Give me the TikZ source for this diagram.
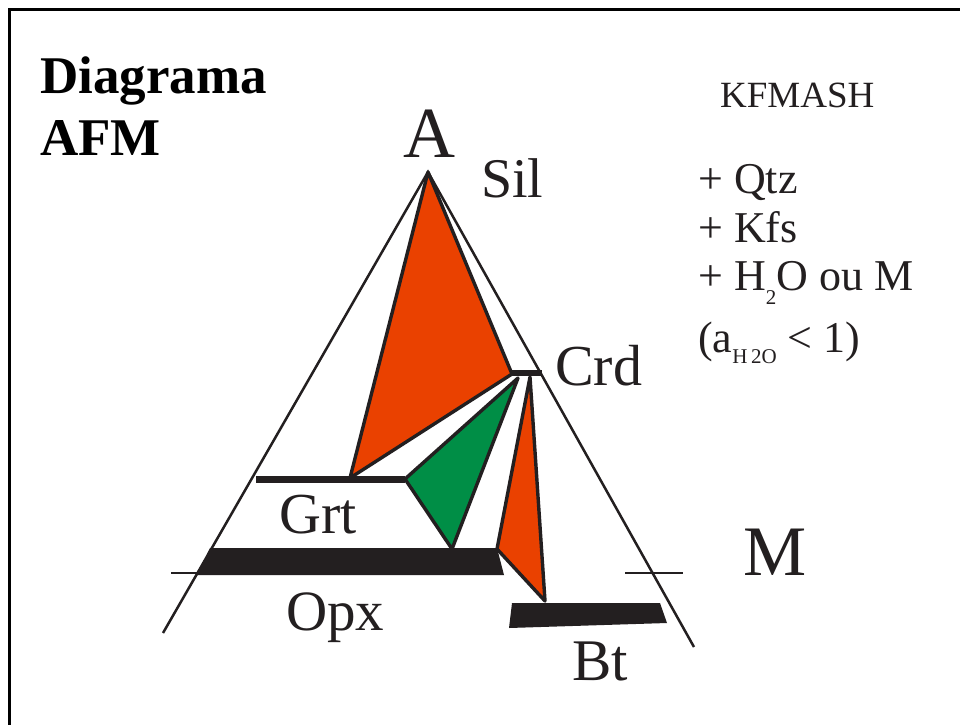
\documentclass[tikz,border=0pt]{standalone}
\usepackage{fontspec}
\setmainfont{Liberation Serif}
\definecolor{orng}{RGB}{234,65,0}
\definecolor{grn}{RGB}{0,142,70}
\definecolor{ink}{RGB}{35,31,32}
\begin{document}
\begin{tikzpicture}[x=1pt,y=-1pt,
  lbl/.style={inner sep=0pt, anchor=base west, text=ink},
  side/.style={draw=ink, line width=2.5pt},
  tick/.style={draw=ink, line width=2pt},
  face/.style={draw=ink, line width=3.4pt, line join=round},
  bar/.style={fill=ink, draw=none}]
\useasboundingbox (0,0) rectangle (960,724);
\fill[white] (0,0) rectangle (960,724);
\draw[black, line width=3pt] (9,740) -- (9,9) -- (980,9);
% triangle
\coordinate (A) at (428,172);
\coordinate (L) at (163,633);
\coordinate (R) at (694,647);
\draw[side] (L) -- (A) -- (R);
\coordinate (tl1) at (171,573); \coordinate (tl2) at (230,573);
\coordinate (tr1) at (625,573); \coordinate (tr2) at (683,573);
\draw[tick] (tl1) -- (tl2);
\draw[tick] (tr1) -- (tr2);
% coloured faces
\coordinate (crdL) at (512,374);
\coordinate (grtP) at (350,478);
\coordinate (grtR) at (405,479);
\coordinate (crdG) at (518,378);
\coordinate (opxG) at (452,549);
\coordinate (crdO) at (530,377);
\coordinate (btP) at (545,601);
\coordinate (opxR) at (497,549);
\draw[face, fill=orng] (A) -- (crdL) -- (grtP) -- cycle;
\draw[face, fill=grn] (grtR) -- (crdG) -- (opxG) -- cycle;
\draw[face, fill=orng] (crdO) -- (btP) -- (opxR) -- cycle;
% bars
\fill[bar] (256,476) rectangle (405,483);
\fill[bar] (511,370) rectangle (542,376);
\fill[bar] (210,548) -- (497,548) -- (504,575) -- (197,575) -- cycle;
\fill[bar] (512,603) -- (660,603) -- (667,623) -- (509,628) -- cycle;
% labels
\node[lbl, font=\fontsize{53}{57}\selectfont\bfseries, text=black] (diag) at (40,93) {Diagrama};
\node[lbl, font=\fontsize{53}{57}\selectfont\bfseries, text=black] (afm) at (40,155) {AFM};
\node[inner sep=0pt, anchor=base, text=ink, font=\fontsize{72}{76}\selectfont] (Alab) at (429,157) {A};
\node[lbl, font=\fontsize{56}{60}\selectfont] (sil) at (481,197) {Sil};
\node[lbl, font=\fontsize{58}{62}\selectfont] (crd) at (555,385) {Crd};
\node[lbl, font=\fontsize{58}{62}\selectfont] (grt) at (279,533) {Grt};
\node[lbl, font=\fontsize{57}{61}\selectfont] (opx) at (286,630) {Opx};
\node[lbl, font=\fontsize{59}{63}\selectfont] (bt) at (572,680) {Bt};
\node[lbl, font=\fontsize{71}{75}\selectfont] (M) at (743,575) {M};
\node[lbl, font=\fontsize{37}{40}\selectfont] (kf) at (720,107) {KFMASH};
\node[lbl, font=\fontsize{44}{47}\selectfont] (qtz) at (698,193) {+ Qtz};
\node[lbl, font=\fontsize{44}{47}\selectfont] (kfs) at (698,242) {+ Kfs};
\node[lbl, font=\fontsize{44}{47}\selectfont] (h2o) at (698,290) {+ H\raisebox{-14pt}{\fontsize{21}{21}\selectfont 2}O ou M};
\node[lbl, font=\fontsize{44}{47}\selectfont] (act) at (698,352) {(a\raisebox{-11pt}{\fontsize{21}{21}\selectfont H\,2O} < 1)};
\end{tikzpicture}
\end{document}
